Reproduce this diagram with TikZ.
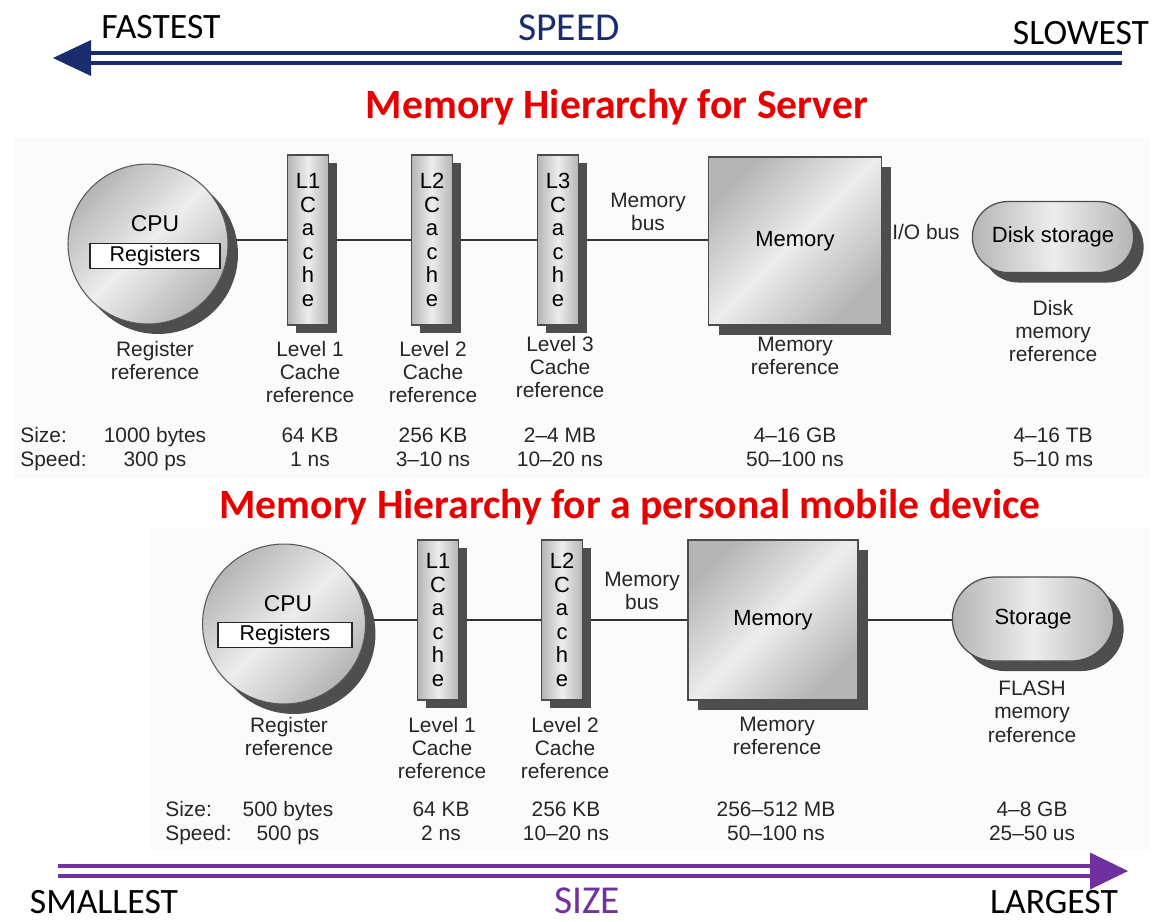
\documentclass[tikz,border=0pt]{standalone}
\usepackage{fontspec}
\setmainfont{Liberation Sans}
\newfontfamily\headfont{Carlito}
\usetikzlibrary{shapes.geometric,shapes.misc,shadows,backgrounds}

\definecolor{navy}{RGB}{24,44,110}
\definecolor{titlered}{RGB}{232,0,0}
\definecolor{sizepurple}{RGB}{112,48,160}
\definecolor{shadowgray}{RGB}{78,78,78}

\tikzset{
  lbl/.style={font=\fontsize{11.9}{13.1}\selectfont, align=center, inner sep=0pt, text=black!85},
  rowlbl/.style={lbl, anchor=base},
  headlbl/.style={font=\headfont\fontsize{20.3}{24}\selectfont, inner sep=0pt},
  titlelbl/.style={font=\headfont\bfseries\fontsize{23.7}{28}\selectfont, text=titlered, inner sep=0pt},
  bus/.style={draw=black!80, line width=1.1pt},
  sheen/.style={shading=axis, top color=gray!58, bottom color=gray!58, middle color=gray!14, shading angle=#1},
  hwshadow/.style={drop shadow={shadow xshift=#1, shadow yshift=-#1, fill=shadowgray, opacity=1}},
  cpubody/.style={ellipse, draw=black!65, line width=0.6pt, minimum width=3.2cm, minimum height=3.2cm, sheen=45, hwshadow=0.2cm},
  regbox/.style={rectangle, draw=black!85, line width=0.7pt, fill=white, minimum height=0.5cm, inner sep=0pt, font=\fontsize{12.2}{13}\selectfont},
  cachebox/.style={rectangle, draw=black!70, line width=0.7pt, minimum width=0.82cm, sheen=90, hwshadow=0.16cm, align=center, inner sep=0pt, font=\fontsize{12.5}{13.4}\selectfont},
  membox/.style={rectangle, draw=black!70, line width=0.7pt, sheen=45, hwshadow=0.2cm, font=\fontsize{12.5}{14}\selectfont},
  diskbox/.style={rounded rectangle, draw=black!70, line width=0.7pt, sheen=90, hwshadow=0.2cm, font=\fontsize{12.5}{14}\selectfont},
  bigarrow/.style={line width=0.075cm, double=white, double distance=0.12cm}
}

\begin{document}
\begin{tikzpicture}[x=0.02cm, y=-0.02cm]
\useasboundingbox (0,0) rectangle (1158,921);

% ---------- speed scale ----------
\node[headlbl] (fastest) at (161,27) {FASTEST};
\node[headlbl, font=\headfont\fontsize{22.5}{26}\selectfont, text=navy] (speedlbl) at (569,28) {SPEED};
\node[headlbl] (slowest) at (1081,33) {SLOWEST};
\coordinate (spdR) at (1122,58);
\coordinate (spdL) at (91,58);
\coordinate (spdTip) at (53,58);
\draw[bigarrow, navy] (spdR) -- (spdL);
\fill[navy] (spdTip) -- ([yshift=-0.36cm]spdL) -- ([yshift=0.36cm]spdL) -- cycle;

% ---------- server hierarchy ----------
\node[titlelbl] (titleS) at (617,107) {Memory Hierarchy for Server};

\node[cpubody] (cpuS) at (148,244) {};
\node[font=\fontsize{13}{14}\selectfont, inner sep=0pt] (cpuSt) at (155,224) {CPU};
\node[regbox, minimum width=2.6cm] (regS) at (155,256) {Registers};

\node[cachebox, minimum height=3.4cm] (l1S) at (308,240) {L1\\C\\a\\c\\h\\e};
\node[cachebox, minimum height=3.4cm] (l2S) at (432,240) {L2\\C\\a\\c\\h\\e};
\node[cachebox, minimum height=3.4cm] (l3S) at (558,240) {L3\\C\\a\\c\\h\\e};
\node[membox, minimum width=3.46cm, minimum height=3.36cm] (memS) at (795,241) {Memory};
\node[diskbox, minimum width=3.46cm, minimum height=1.42cm] (diskS) at (1053,237) {Disk storage};

\node[lbl] (mbusS) at (648,212) {Memory\\bus};
\node[lbl] (iobusS) at (926,232) {I/O bus};

\begin{scope}[on background layer]
  \fill[black!1.5] (14,138) rectangle (1150,478);
  \draw[bus] (l1S.west) -- (l1S.west -| cpuS.east);
  \draw[bus] (l1S.east) -- (l2S.west);
  \draw[bus] (l2S.east) -- (l3S.west);
  \draw[bus] (l3S.east) -- (l3S.east -| memS.west);
\end{scope}

\node[lbl, anchor=north] (refRegS) at (155,341) {Register\\reference};
\node[lbl, anchor=north] (refL1S) at (310,341) {Level 1\\Cache\\reference};
\node[lbl, anchor=north] (refL2S) at (433,341) {Level 2\\Cache\\reference};
\node[lbl, anchor=north] (refL3S) at (560,336) {Level 3\\Cache\\reference};
\node[lbl, anchor=north] (refMemS) at (795,337) {Memory\\reference};
\node[lbl, anchor=north] (refDiskS) at (1053,300) {Disk\\memory\\reference};

\node[rowlbl, anchor=base west] (sizeS) at (20,442) {Size:};
\node[rowlbl, anchor=base west] (speedS) at (20,466) {Speed:};
\node[rowlbl] (szRegS) at (155,442) {1000 bytes};
\node[rowlbl] (spRegS) at (155,466) {300 ps};
\node[rowlbl] (szL1S) at (310,442) {64 KB};
\node[rowlbl] (spL1S) at (310,466) {1 ns};
\node[rowlbl] (szL2S) at (433,442) {256 KB};
\node[rowlbl] (spL2S) at (433,466) {3--10 ns};
\node[rowlbl] (szL3S) at (560,442) {2--4 MB};
\node[rowlbl] (spL3S) at (560,466) {10--20 ns};
\node[rowlbl] (szMemS) at (795,442) {4--16 GB};
\node[rowlbl] (spMemS) at (795,466) {50--100 ns};
\node[rowlbl] (szDiskS) at (1053,442) {4--16 TB};
\node[rowlbl] (spDiskS) at (1053,466) {5--10 ms};

% ---------- mobile hierarchy ----------
\node[titlelbl] (titleM) at (630,507) {Memory Hierarchy for a personal mobile device};

\node[cpubody, minimum width=3.26cm] (cpuM) at (284,624) {};
\node[font=\fontsize{13}{14}\selectfont, inner sep=0pt] (cpuMt) at (288,604) {CPU};
\node[regbox, minimum width=2.68cm] (regM) at (285,635) {Registers};

\node[cachebox, minimum height=3.2cm] (l1M) at (438,620) {L1\\C\\a\\c\\h\\e};
\node[cachebox, minimum height=3.2cm] (l2M) at (562,620) {L2\\C\\a\\c\\h\\e};
\node[membox, minimum width=3.4cm, minimum height=3.2cm] (memM) at (773,620) {Memory};
\node[diskbox, minimum width=3.46cm, minimum height=1.68cm] (storM) at (1033,619) {Storage};

\node[lbl] (mbusM) at (642,591) {Memory\\bus};

\begin{scope}[on background layer]
  \fill[black!1.5] (150,528) rectangle (1150,850);
  \draw[bus] (l1M.west) -- (l1M.west -| cpuM.east);
  \draw[bus] (l1M.east) -- (l2M.west);
  \draw[bus] (l2M.east) -- (l2M.east -| memM.west);
  \draw[bus] (memM.east) -- (memM.east -| storM.west);
\end{scope}

\node[lbl, anchor=north] (refRegM) at (289,717) {Register\\reference};
\node[lbl, anchor=north] (refL1M) at (442,717) {Level 1\\Cache\\reference};
\node[lbl, anchor=north] (refL2M) at (565,717) {Level 2\\Cache\\reference};
\node[lbl, anchor=north] (refMemM) at (777,717) {Memory\\reference};
\node[lbl, anchor=north] (refStorM) at (1032,681) {FLASH\\memory\\reference};

\node[rowlbl, anchor=base west] (sizeM) at (165,816) {Size:};
\node[rowlbl, anchor=base west] (speedM) at (165,840) {Speed:};
\node[rowlbl] (szRegM) at (288,816) {500 bytes};
\node[rowlbl] (spRegM) at (288,840) {500 ps};
\node[rowlbl] (szL1M) at (441,816) {64 KB};
\node[rowlbl] (spL1M) at (441,840) {2 ns};
\node[rowlbl] (szL2M) at (566,816) {256 KB};
\node[rowlbl] (spL2M) at (566,840) {10--20 ns};
\node[rowlbl] (szMemM) at (776,816) {256--512 MB};
\node[rowlbl] (spMemM) at (776,840) {50--100 ns};
\node[rowlbl] (szStorM) at (1032,816) {4--8 GB};
\node[rowlbl] (spStorM) at (1032,840) {25--50 us};

% ---------- size scale ----------
\coordinate (szL) at (58,871);
\coordinate (szR) at (1090,871);
\coordinate (szTip) at (1128,871);
\draw[bigarrow, sizepurple] (szL) -- (szR);
\fill[sizepurple] (szTip) -- ([yshift=-0.37cm]szR) -- ([yshift=0.37cm]szR) -- cycle;
\node[headlbl] (smallest) at (104,902) {SMALLEST};
\node[headlbl, font=\headfont\fontsize{22.5}{26}\selectfont, text=sizepurple] (sizelbl) at (587,901) {SIZE};
\node[headlbl] (largest) at (1054,902) {LARGEST};
\end{tikzpicture}
\end{document}
